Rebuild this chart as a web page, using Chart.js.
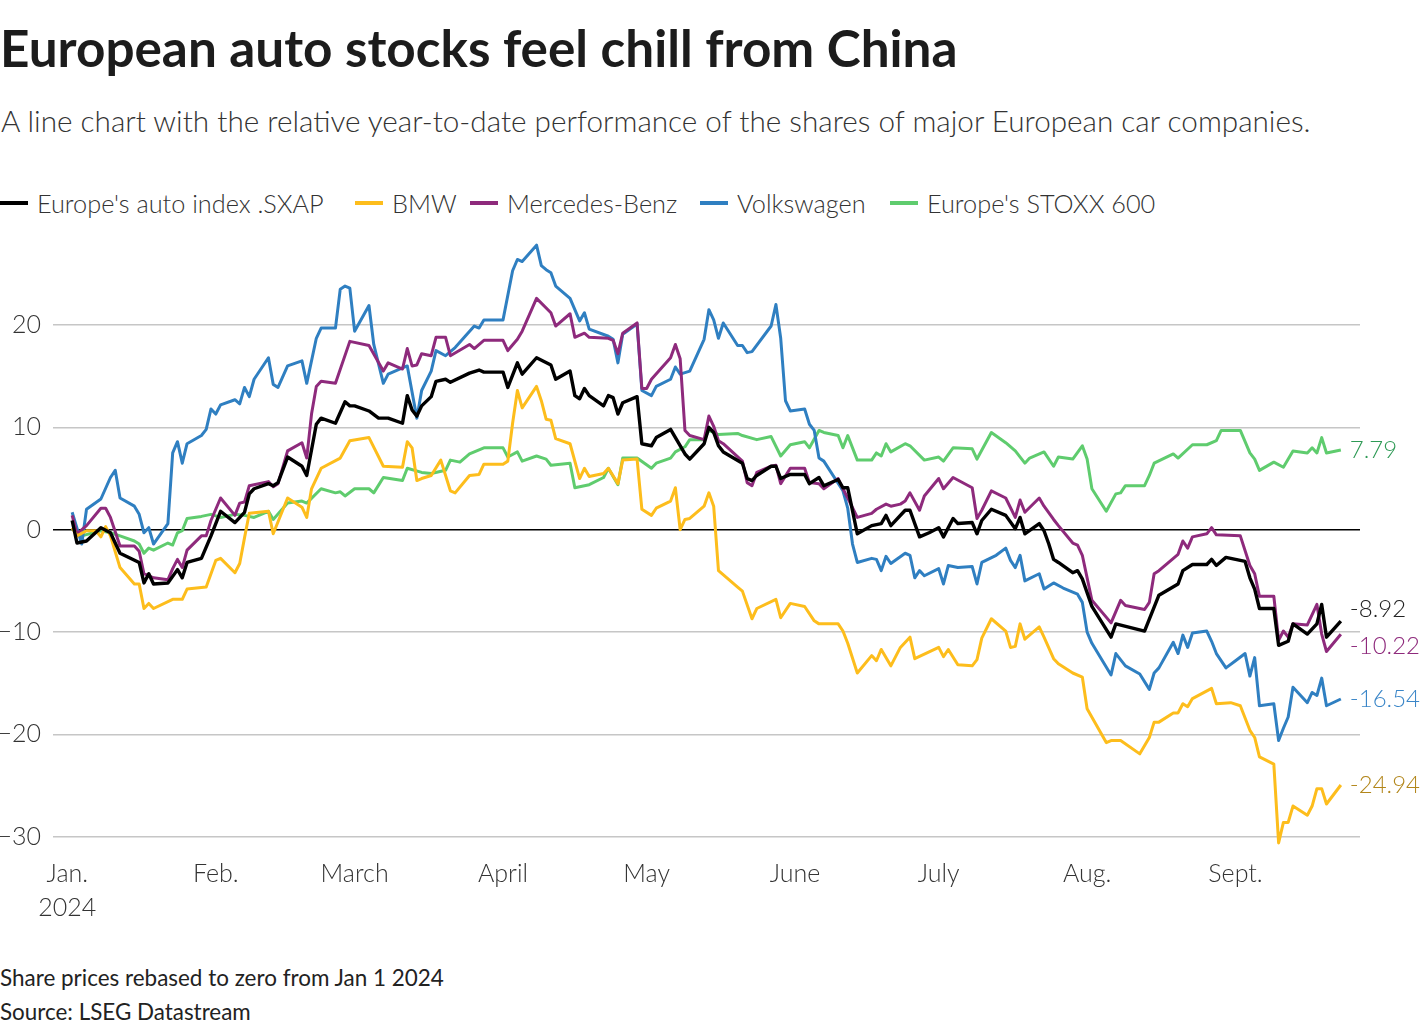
<!DOCTYPE html>
<html>
<head>
<meta charset="utf-8">
<script src="https://cdn.jsdelivr.net/npm/chart.js@4.4.1/dist/chart.umd.min.js"></script>
<style>
  body { margin: 0; width: 1420px; height: 1034px; background: #fff; position: relative; overflow: hidden; font-family: Lato, "Noto Sans", sans-serif; }
  .txt { position: absolute; white-space: nowrap; line-height: 1; }
  #title { left: 0; top: 22px; font-weight: 700; font-size: 50px; color: #1c1c1c; }
  #subtitle { left: 1px; top: 106px; font-weight: 300; font-size: 29px; color: #333; }
  .leg { position: absolute; top: 189px; height: 28px; font-weight: 300; font-size: 25.3px; color: #333; white-space: nowrap; line-height: 28px; }
  .leg i { position: absolute; top: 12px; width: 28px; height: 3.5px; }
  .leg span { position: absolute; left: 37px; }
  #note { left: 0; top: 967px; font-size: 21px; color: #222; }
  #source { left: 0; top: 1001px; font-size: 21px; color: #222; }
  #chart { position: absolute; left: 0; top: 211px; }
</style>
</head>
<body>
<div id="title" class="txt" data-w="958">European auto stocks feel chill from China</div>
<div id="subtitle" class="txt" data-w="1310">A line chart with the relative year-to-date performance of the shares of major European car companies.</div>
<div id="legend"></div>
<canvas id="chart" width="1420" height="714"></canvas>
<div id="note" class="txt" data-w="444">Share prices rebased to zero from Jan 1 2024</div>
<div id="source" class="txt" data-w="251">Source: LSEG Datastream</div>
<script>
// x values are days since 1 Jan 2024, y values are % change since then
var sxapDays = [1,2,4,7,9,11,15,16,17,18,21,23,24,25,28,30,32,35,37,38,39,42,43,44,46,49,50,52,53,56,58,59,60,63,65,67,70,71,72,73,74,76,77,79,80,84,86,87,91,92,94,95,98,101,102,105,106,107,108,109,112,113,114,115,116,119,120,122,123,126,129,130,133,134,135,136,137,141,142,143,144,147,148,149,151,154,155,157,158,161,162,163,165,168,170,171,172,175,176,178,180,182,183,185,186,189,190,191,193,196,198,199,200,203,204,205,206,207,210,211,212,214,218,219,225,228,232,233,235,238,239,240,242,246,247,248,249,252,253,255,256,259,261,262,263,266];
var sxapValues = [0.9,-1.3,-1.1,0.2,-0.3,-2.3,-3.2,-5.2,-4.3,-5.3,-5.2,-3.9,-4.7,-3.2,-2.8,-0.6,1.8,0.7,1.7,3.5,4.0,4.5,4.3,4.6,7.1,6.2,5.3,10.3,10.9,10.4,12.5,12.1,12.1,11.6,10.9,10.9,10.4,13.1,11.7,11.1,12.1,13.0,14.5,14.7,14.4,15.3,15.6,15.4,15.4,13.9,16.3,15.2,16.8,16.1,14.7,15.5,13.1,12.8,13.8,13.1,12.1,13.1,12.9,11.3,12.4,13.0,8.4,8.2,9.0,9.8,7.4,6.9,8.4,10.0,9.5,8.2,7.6,6.5,5.0,4.8,5.3,6.2,6.2,5.0,5.4,5.4,4.5,5.1,4.3,4.9,4.1,4.1,-0.4,0.4,0.6,1.4,0.4,1.9,1.9,-0.7,-0.3,0.2,-0.7,1.1,0.6,0.7,-0.4,0.9,2.0,1.4,0.1,1.2,-0.4,0.6,-0.1,-1.4,-2.9,-3.2,-4.2,-4.0,-4.8,-7.5,-10.5,-9.2,-9.9,-6.4,-5.3,-4.0,-3.4,-3.4,-2.9,-3.5,-2.7,-3.1,-4.7,-5.8,-7.7,-7.7,-11.3,-10.9,-9.2,-10.2,-9.2,-7.3,-10.5,-8.92];

var bmwDays = [1,2,4,6,7,8,9,11,14,15,16,17,18,22,24,25,29,31,32,35,36,37,38,42,43,46,49,50,51,53,57,59,63,66,70,71,72,73,74,76,78,80,81,84,86,87,91,92,93,94,95,98,99,100,101,102,105,107,108,109,112,113,115,116,119,120,122,123,126,127,128,129,130,133,134,135,136,140,141,143,144,148,149,151,154,156,157,161,162,163,165,168,169,170,172,174,176,177,182,183,184,186,189,190,191,193,196,197,198,199,200,203,204,206,207,210,212,213,217,218,220,224,226,227,228,231,232,233,234,235,239,240,243,245,247,248,249,252,253,254,255,256,259,260,261,262,263,266];
var bmwValues = [0.2,-0.6,-0.1,-0.1,-0.7,0.3,-0.6,-3.7,-5.3,-5.3,-7.7,-7.2,-7.7,-6.8,-6.8,-5.8,-5.6,-3.0,-2.8,-4.2,-3.3,-0.8,1.6,1.8,-0.4,3.1,2.2,1.2,4.0,6.0,7.0,8.7,9.0,6.2,6.1,8.6,8.0,4.8,5.0,5.3,6.8,3.8,3.6,5.3,5.4,6.4,6.4,6.7,10.4,13.6,11.9,14.0,12.6,10.8,10.7,8.9,8.4,5.0,6.0,5.2,5.5,6.0,4.5,6.8,6.9,2.0,1.4,2.1,2.8,4.1,0.0,1.0,1.1,2.3,3.6,2.3,-4.0,-5.6,-6.0,-8.7,-7.7,-6.8,-8.6,-7.2,-7.5,-8.9,-9.2,-9.2,-9.9,-11.1,-14.0,-12.3,-12.8,-11.7,-13.3,-11.5,-10.5,-12.6,-11.5,-12.4,-11.7,-13.2,-13.3,-12.7,-10.6,-8.7,-9.9,-11.5,-11.4,-9.2,-10.7,-9.5,-10.5,-12.6,-13.1,-14.0,-14.4,-17.5,-20.8,-20.6,-20.6,-21.9,-20.3,-18.8,-18.8,-17.9,-17.9,-17.0,-17.3,-16.5,-15.5,-17.0,-16.9,-17.2,-19.6,-20.3,-22.2,-22.9,-30.6,-28.6,-28.6,-27.0,-27.9,-27.0,-25.3,-25.3,-26.8,-24.94];

var mercDays = [1,2,4,7,8,9,11,14,15,16,18,21,22,23,24,25,28,29,30,32,35,36,37,38,42,43,44,46,49,50,51,52,53,56,59,63,66,67,70,71,72,73,74,76,77,79,80,84,85,87,91,92,94,95,98,101,102,105,106,108,109,113,114,115,116,119,120,121,122,126,127,128,129,130,133,134,135,136,137,141,142,143,144,147,148,149,151,154,155,157,158,161,162,163,165,168,169,171,172,174,175,176,178,179,182,183,185,189,190,191,193,196,198,199,200,203,204,206,207,210,211,212,214,218,220,221,225,226,227,228,232,233,234,235,238,239,240,245,247,248,249,252,253,254,255,256,259,261,262,263,266];
var mercValues = [1.4,-0.4,0.4,2.1,2.1,1.2,-1.6,-1.6,-2.1,-4.3,-4.7,-4.9,-3.8,-2.9,-3.7,-2.0,-0.6,-0.6,0.9,3.1,1.4,2.6,2.7,4.3,4.7,4.2,4.5,7.7,8.5,7.0,11.3,14.0,14.5,14.3,18.4,18.0,15.5,16.3,15.7,17.7,16.0,16.1,17.2,17.0,18.8,18.8,17.0,18.1,17.7,18.5,18.5,17.5,18.6,19.4,22.6,21.2,19.9,21.1,18.8,19.2,18.8,18.7,18.5,17.2,19.2,20.2,13.8,13.8,14.7,16.8,18.1,16.7,9.7,9.2,8.8,11.1,10.1,8.7,8.4,6.7,4.6,4.3,5.6,6.2,6.3,4.5,6.0,6.0,4.6,4.5,4.0,5.0,4.0,3.1,1.2,1.6,2.0,2.5,2.3,2.5,2.8,3.6,1.9,3.3,5.0,4.0,5.1,4.1,1.1,1.9,3.8,3.1,1.2,2.9,1.7,3.1,2.3,1.0,0.4,-1.3,-1.5,-2.5,-6.9,-9.1,-6.9,-7.4,-7.8,-7.1,-4.3,-4.0,-2.4,-1.1,-1.8,-0.7,-0.4,0.2,-0.5,-0.6,-3.5,-4.3,-6.5,-6.5,-10.8,-9.9,-10.5,-9.2,-9.3,-7.3,-10.2,-11.9,-10.22];

var vwDays = [1,3,4,7,9,10,11,14,15,16,17,18,21,22,23,24,25,28,29,30,31,32,35,36,37,38,39,42,43,44,46,49,50,52,53,56,57,58,59,60,63,64,66,67,70,71,73,74,76,77,79,81,85,86,87,91,93,94,95,98,99,100,101,102,105,107,108,109,113,114,115,116,119,120,122,123,126,127,128,130,133,134,135,136,137,140,141,142,143,147,148,149,150,151,154,155,156,157,158,162,163,164,165,168,169,170,171,172,175,176,177,178,179,182,183,184,186,189,190,191,194,196,197,198,199,200,203,204,206,208,211,212,213,214,218,219,221,224,226,227,228,231,232,233,234,235,238,239,240,242,244,246,247,248,249,252,253,254,255,256,259,260,261,262,263,266];
var vwValues = [1.7,-1.4,2.0,3.0,5.1,5.8,3.1,2.3,1.5,-0.3,0.2,-1.4,0.6,7.5,8.6,6.5,8.4,9.2,9.8,11.8,11.3,12.2,12.7,12.3,13.9,13.0,14.7,16.8,14.2,13.9,16.0,16.5,14.3,18.7,19.7,19.7,23.5,23.8,23.6,19.4,21.9,18.1,14.3,15.2,15.8,16.0,10.9,13.6,15.5,17.5,17.0,17.8,19.9,19.7,20.5,20.5,25.3,26.4,26.2,27.8,25.8,25.4,25.1,23.8,22.6,20.4,21.2,19.6,18.9,18.6,16.3,19.1,20.1,13.6,13.1,14.0,14.7,15.9,15.2,15.5,18.6,21.5,20.5,18.7,20.2,18.0,18.0,17.3,17.4,19.9,22.0,18.7,12.6,11.6,11.8,10.3,9.7,7.0,6.7,3.8,2.1,-1.4,-3.2,-2.8,-2.9,-4.0,-2.6,-3.3,-2.3,-2.5,-4.7,-4.0,-4.5,-3.8,-5.3,-3.5,-3.7,-3.6,-5.3,-3.2,-2.5,-1.8,-3.0,-3.7,-2.5,-5.0,-4.3,-5.8,-5.2,-5.7,-6.3,-7.1,-10.0,-11.1,-14.2,-12.1,-13.3,-14.1,-15.6,-14.0,-13.5,-11.0,-12.1,-10.3,-11.5,-10.1,-9.9,-10.9,-12.1,-13.5,-12.8,-12.1,-14.3,-12.5,-17.2,-17.0,-20.6,-19.4,-18.3,-15.4,-16.9,-15.9,-16.2,-14.5,-17.2,-16.54];

var stoxxDays = [1,3,7,9,11,14,15,16,17,18,21,22,23,24,25,28,30,32,35,37,39,42,43,46,49,50,53,56,57,58,60,63,64,66,70,71,74,76,79,80,82,84,87,91,92,94,95,98,100,101,105,106,109,112,113,115,116,119,122,123,126,127,129,130,133,134,136,140,141,144,147,149,151,154,155,157,158,161,162,163,165,168,169,170,171,172,175,176,179,182,183,185,189,190,193,196,198,200,201,204,206,207,210,212,213,214,217,219,220,221,225,226,227,231,232,235,238,240,241,245,247,248,249,252,254,256,259,260,261,262,263,266];
var stoxxValues = [0.1,-0.6,-0.1,-0.3,-0.6,-1.1,-1.4,-2.3,-1.8,-2.0,-1.3,-1.5,-0.3,-0.1,1.1,1.3,1.5,1.2,1.5,1.4,1.2,1.8,1.0,2.6,2.8,2.6,4.0,3.6,3.7,3.3,4.0,4.0,3.6,5.1,4.8,6.0,5.6,5.5,5.8,6.8,6.6,7.4,8.0,8.0,7.1,7.6,6.7,7.2,6.9,6.3,6.5,4.1,4.4,5.1,6.0,4.4,7.0,7.0,6.0,6.5,7.0,7.6,8.1,8.8,8.8,9.7,9.3,9.4,9.2,8.8,9.1,7.2,8.3,8.6,8.0,9.7,9.5,9.2,8.0,9.2,6.8,6.8,7.5,7.2,8.4,7.6,8.4,8.2,6.8,7.1,6.7,8.0,7.9,6.9,9.5,8.5,7.7,6.5,7.0,7.6,6.2,7.1,6.9,8.2,6.9,4.0,1.8,3.5,3.6,4.3,4.3,5.3,6.5,7.4,7.0,8.3,8.3,8.7,9.7,9.7,7.5,6.9,5.8,6.6,6.1,7.7,7.5,8.0,7.5,9.0,7.5,7.79];

var seriesNames = ["Europe's auto index .SXAP", 'BMW', 'Mercedes-Benz', 'Volkswagen', "Europe's STOXX 600"];
var seriesColors = ['#000000', '#fdbd1c', '#8e2a7c', '#2f7fc1', '#5fcc6e'];
var labelColors = ['#222222', '#b2861a', '#8e2a7c', '#3a86c8', '#2e9a55'];

var monthDays = [0, 31, 60, 91, 121, 152, 182, 213, 244];
var monthLabels = [['Jan.', '2024'], 'Feb.', 'March', 'April', 'May', 'June', 'July', 'Aug.', 'Sept.'];
var yTicks = [-30, -20, -10, 0, 10, 20];
var yTickLabels = ['\u221230', '\u221220', '\u221210', '0', '10', '20'];

function toPoints(days, values) {
    return days.map(function (d, i) { return { x: d, y: values[i] }; });
}

// fit the html texts to the widths they have in the picture
document.querySelectorAll('[data-w]').forEach(function (el) {
    var target = +el.getAttribute('data-w');
    var size = parseFloat(getComputedStyle(el).fontSize);
    el.style.fontSize = (size * target / el.offsetWidth) + 'px';
});

var legendX = [0, 355, 470, 700, 890];
var legend = document.getElementById('legend');
seriesNames.forEach(function (name, i) {
    var d = document.createElement('div');
    d.className = 'leg';
    d.style.left = legendX[i] + 'px';
    d.innerHTML = '<i style="background:' + seriesColors[i] + '"></i><span>' + name + '</span>';
    legend.appendChild(d);
});

var allDays = [sxapDays, bmwDays, mercDays, vwDays, stoxxDays];
var allValues = [sxapValues, bmwValues, mercValues, vwValues, stoxxValues];

var endLabels = {
    id: 'endLabels',
    afterDatasetsDraw: function (chart) {
        var ctx = chart.ctx;
        var items = [];
        chart.data.datasets.forEach(function (ds, i) {
            var meta = chart.getDatasetMeta(i);
            var pt = meta.data[meta.data.length - 1];
            var v = ds.data[ds.data.length - 1].y;
            items.push({ x: pt.x, y: pt.y, text: v.toFixed(2), color: labelColors[i] });
        });
        items.sort(function (a, b) { return a.y - b.y; });
        var gap = 37;
        for (var k = 1; k < items.length; k++) {
            if (items[k].y - items[k - 1].y < gap) {
                var mid = (items[k].y + items[k - 1].y) / 2;
                items[k - 1].y = mid - gap / 2;
                items[k].y = mid + gap / 2;
            }
        }
        ctx.save();
        ctx.font = '300 24px Lato';
        ctx.textBaseline = 'middle';
        ctx.textAlign = 'left';
        items.forEach(function (it) {
            ctx.fillStyle = it.color;
            ctx.fillText(it.text, it.x + 9, it.y);
        });
        ctx.restore();
    }
};

var datasets = seriesNames.map(function (name, i) {
    return {
        label: name,
        data: toPoints(allDays[i], allValues[i]),
        borderColor: seriesColors[i],
        borderWidth: i === 0 ? 3.4 : 3,
        pointRadius: 0,
        tension: 0,
        borderJoinStyle: 'round',
        fill: false
    };
});

new Chart(document.getElementById('chart'), {
    type: 'line',
    data: { datasets: datasets },
    plugins: [endLabels],
    options: {
        responsive: false,
        animation: false,
        devicePixelRatio: 1,
        layout: { padding: { top: 12, right: 60, left: 0, bottom: 0 } },
        plugins: { legend: { display: false }, tooltip: { enabled: false } },
        scales: {
            x: {
                type: 'linear',
                min: -3,
                max: 270,
                grid: { display: false },
                border: { display: false },
                afterBuildTicks: function (scale) {
                    scale.ticks = monthDays.map(function (v) { return { value: v }; });
                },
                afterFit: function (scale) { scale.height = 78; },
                ticks: {
                    autoSkip: false,
                    maxRotation: 0,
                    padding: 2,
                    color: '#333',
                    font: { family: 'Lato', weight: '300', size: 25, lineHeight: 1.35 },
                    callback: function (value, index) { return monthLabels[index]; }
                }
            },
            y: {
                min: -31,
                max: 28.5,
                border: { display: false },
                afterBuildTicks: function (scale) {
                    scale.ticks = yTicks.map(function (v) { return { value: v }; });
                },
                afterFit: function (scale) { scale.width = 53; },
                grid: {
                    drawTicks: false,
                    color: function (c) { return c.tick && c.tick.value === 0 ? '#000000' : '#c6c6c6'; },
                    lineWidth: function (c) { return c.tick && c.tick.value === 0 ? 1.6 : 1.4; }
                },
                ticks: {
                    padding: 12,
                    color: '#333',
                    font: { family: 'Lato', weight: '300', size: 25 },
                    callback: function (value, index) { return yTickLabels[index]; }
                }
            }
        }
    }
});
</script>
</body>
</html>
